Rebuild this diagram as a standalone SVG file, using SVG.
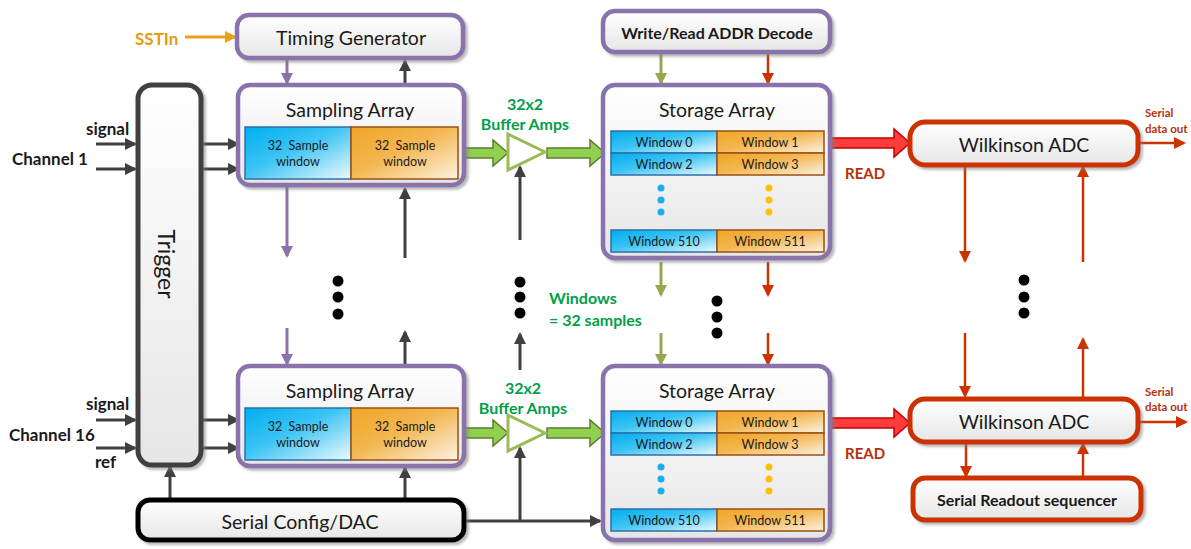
<svg xmlns="http://www.w3.org/2000/svg" width="1191" height="549" viewBox="0 0 1191 549">
<defs>
  <linearGradient id="gNode" x1="0" y1="0" x2="0" y2="1">
    <stop offset="0" stop-color="#ffffff"/>
    <stop offset="1" stop-color="#e6e6e6"/>
  </linearGradient>
  <linearGradient id="gBlue" x1="0" y1="0" x2="1" y2="1">
    <stop offset="0" stop-color="#00aef0"/>
    <stop offset="0.45" stop-color="#3cc4f4"/>
    <stop offset="1" stop-color="#eefaff"/>
  </linearGradient>
  <linearGradient id="gOrange" x1="0" y1="0" x2="1" y2="1">
    <stop offset="0" stop-color="#f0a526"/>
    <stop offset="0.45" stop-color="#f3b650"/>
    <stop offset="1" stop-color="#fdf2e2"/>
  </linearGradient>
  <filter id="sh" x="-10%" y="-10%" width="130%" height="130%">
    <feDropShadow dx="2.5" dy="2.5" stdDeviation="1.2" flood-color="#808080" flood-opacity="0.55"/>
  </filter>
  <marker id="aDark" markerUnits="userSpaceOnUse" markerWidth="14" markerHeight="14" refX="10" refY="6" orient="auto"><path d="M0,0 L12,6 L0,12 z" fill="#404040"/></marker>
  <marker id="aPurple" markerUnits="userSpaceOnUse" markerWidth="14" markerHeight="14" refX="10" refY="6" orient="auto"><path d="M0,0 L12,6 L0,12 z" fill="#8a72ab"/></marker>
  <marker id="aOlive" markerUnits="userSpaceOnUse" markerWidth="14" markerHeight="14" refX="10" refY="6" orient="auto"><path d="M0,0 L12,6 L0,12 z" fill="#93a94f"/></marker>
  <marker id="aRed" markerUnits="userSpaceOnUse" markerWidth="14" markerHeight="14" refX="10" refY="6" orient="auto"><path d="M0,0 L12,6 L0,12 z" fill="#cc3300"/></marker>
  <marker id="aOrange" markerUnits="userSpaceOnUse" markerWidth="14" markerHeight="14" refX="10" refY="6" orient="auto"><path d="M0,0 L12,6 L0,12 z" fill="#e8a317"/></marker>
  <style>
    .box { fill: url(#gNode); filter: url(#sh); }
    .pur { stroke: #8a72ab; stroke-width: 4.5; }
    .blk { stroke: #000000; stroke-width: 5; }
    .trg { stroke: #404040; stroke-width: 5; }
    .red { stroke: #cc3300; stroke-width: 5; }
    .wb { fill: url(#gBlue); stroke: #2e6fa8; stroke-width: 1.5; }
    .wo { fill: url(#gOrange); stroke: #9a4f12; stroke-width: 1.5; }
    .t { font-family: Lato, "Liberation Sans", sans-serif; fill: #1a1a1a; text-anchor: middle; dominant-baseline: central; }
    .big { font-size: 19.5px; }
    .bb { font-size: 16px; font-weight: bold; }
    .win { font-size: 12.5px; white-space: pre; }
    .lab { font-family: Lato, "Liberation Sans", sans-serif; font-weight: bold; dominant-baseline: central; }
    .grn { fill: #00a04a; font-size: 16px; text-anchor: middle; }
    .rd { fill: #b5310a; }
    .cDark { stroke: #404040; stroke-width: 3; fill: none; marker-end: url(#aDark); }
    .cPur { stroke: #8a72ab; stroke-width: 3; fill: none; marker-end: url(#aPurple); }
    .cOl { stroke: #93a94f; stroke-width: 3; fill: none; marker-end: url(#aOlive); }
    .cRed { stroke: #cc3300; stroke-width: 2.5; fill: none; marker-end: url(#aRed); }
    .cOr { stroke: #e8a317; stroke-width: 3; fill: none; marker-end: url(#aOrange); }
    .gArrow { fill: #92d050; stroke: #5e7d30; stroke-width: 1.5; }
    .amp { fill: #ffffff; stroke: #9bbb59; stroke-width: 3; }
    .rArrow { fill: #ff3b3b; stroke: #c00000; stroke-width: 1.5; }
  </style>
</defs>
<rect width="1191" height="549" fill="#ffffff"/>

<!-- Connectors -->
<g id="connectors">
  <line class="cOr" x1="185" y1="37" x2="235" y2="37"/>
  <line class="cPur" x1="287" y1="60" x2="287" y2="83"/>
  <line class="cDark" x1="405" y1="85" x2="405" y2="61"/>
  <line class="cPur" x1="287" y1="187" x2="287" y2="256"/>
  <line class="cPur" x1="287" y1="328" x2="287" y2="364"/>
  <line class="cDark" x1="405" y1="258" x2="405" y2="189"/>
  <line class="cDark" x1="405" y1="366" x2="405" y2="332"/>
  <line class="cDark" x1="96" y1="144" x2="135" y2="144"/>
  <line class="cDark" x1="96" y1="169" x2="135" y2="169"/>
  <line class="cDark" x1="202" y1="144" x2="238" y2="144"/>
  <line class="cDark" x1="202" y1="169" x2="238" y2="169"/>
  <line class="cDark" x1="96" y1="420" x2="135" y2="420"/>
  <line class="cDark" x1="96" y1="448" x2="135" y2="448"/>
  <line class="cDark" x1="202" y1="420" x2="238" y2="420"/>
  <line class="cDark" x1="202" y1="448" x2="238" y2="448"/>
  <line class="cDark" x1="170" y1="500" x2="170" y2="467"/>
  <line class="cDark" x1="405" y1="500" x2="405" y2="468"/>
  <line class="cDark" x1="465" y1="521" x2="600" y2="521"/>
  <line class="cDark" x1="520" y1="521" x2="520" y2="448"/>
  <line class="cDark" x1="520" y1="240" x2="520" y2="167"/>
  <line class="cDark" x1="520" y1="370" x2="520" y2="334"/>
  <polygon class="gArrow" points="458,148 493,148 493,140 508,153 493,166 493,158 458,158"/>
  <polygon class="gArrow" points="547,148 590,148 590,140 605,153 590,166 590,158 547,158"/>
  <polygon class="gArrow" points="458,428 493,428 493,420 508,433 493,446 493,438 458,438"/>
  <polygon class="gArrow" points="547,428 590,428 590,420 605,433 590,446 590,438 547,438"/>
  <line class="cOl" x1="661" y1="53" x2="661" y2="83"/>
  <line class="cRed" x1="768" y1="53" x2="768" y2="83"/>
  <line class="cOl" x1="661" y1="262" x2="661" y2="295"/>
  <line class="cOl" x1="661" y1="333" x2="661" y2="364"/>
  <line class="cRed" x1="768" y1="262" x2="768" y2="295"/>
  <line class="cRed" x1="768" y1="333" x2="768" y2="364"/>
  <polygon class="rArrow" points="824,138 894,138 894,129 910,143 894,157 894,148 824,148"/>
  <polygon class="rArrow" points="824,418 894,418 894,409 910,423 894,437 894,428 824,428"/>
  <line class="cRed" x1="965" y1="166" x2="965" y2="261"/>
  <line class="cRed" x1="1083" y1="262" x2="1083" y2="167"/>
  <line class="cRed" x1="965" y1="333" x2="965" y2="396"/>
  <line class="cRed" x1="1083" y1="397" x2="1083" y2="339"/>
  <line class="cRed" x1="966" y1="443" x2="966" y2="476"/>
  <line class="cRed" x1="1083" y1="478" x2="1083" y2="444"/>
  <line class="cRed" x1="1138" y1="143" x2="1184" y2="143"/>
  <line class="cRed" x1="1138" y1="422" x2="1186" y2="422"/>
</g>

<!-- Nodes -->
<g id="timing-generator">
  <rect class="box pur" x="237" y="15" width="226" height="43" rx="12"/>
  <text class="t big" x="351" y="37">Timing Generator</text>
</g>

<g id="trigger">
  <rect class="box trg" x="138" y="85" width="63" height="380" rx="14"/>
  <text class="t" font-size="23" transform="translate(167,264) rotate(90)">Trigger</text>
</g>

<g id="sampling-array-1">
  <rect class="box pur" x="238" y="85" width="226" height="100" rx="12"/>
  <text class="t big" x="350" y="109">Sampling Array</text>
  <rect class="wb" x="245" y="127" width="106" height="52"/>
  <rect class="wo" x="351" y="127" width="107" height="52"/>
  <text class="t win" x="298" y="145" xml:space="preserve">32  Sample</text>
  <text class="t win" x="298" y="161">window</text>
  <text class="t win" x="405" y="145" xml:space="preserve">32  Sample</text>
  <text class="t win" x="405" y="161">window</text>
</g>

<g id="sampling-array-16">
  <rect class="box pur" x="238" y="366" width="226" height="100" rx="12"/>
  <text class="t big" x="350" y="390">Sampling Array</text>
  <rect class="wb" x="245" y="408" width="106" height="52"/>
  <rect class="wo" x="351" y="408" width="107" height="52"/>
  <text class="t win" x="298" y="426" xml:space="preserve">32  Sample</text>
  <text class="t win" x="298" y="442">window</text>
  <text class="t win" x="405" y="426" xml:space="preserve">32  Sample</text>
  <text class="t win" x="405" y="442">window</text>
</g>

<g id="buffer-amp-1">
  <polygon class="amp" points="508,134 545,152 508,170"/>
</g>
<g id="buffer-amp-16">
  <polygon class="amp" points="508,415 545,433 508,451"/>
</g>

<g id="serial-config-dac">
  <rect class="box blk" x="138" y="500" width="326" height="40" rx="12"/>
  <text class="t big" x="300" y="521">Serial Config/DAC</text>
</g>

<g id="addr-decode">
  <rect class="box pur" x="603" y="11" width="227" height="41" rx="12"/>
  <text class="t bb" x="717" y="32">Write/Read ADDR Decode</text>
</g>

<g id="storage-array-1">
  <rect class="box pur" x="603" y="85" width="227" height="173" rx="12"/>
  <text class="t big" x="717" y="109">Storage Array</text>
  <rect class="wb" x="611" y="131" width="106" height="22"/>
  <rect class="wo" x="717" y="131" width="107" height="22"/>
  <rect class="wb" x="611" y="153" width="106" height="22"/>
  <rect class="wo" x="717" y="153" width="107" height="22"/>
  <text class="t win" x="664" y="142">Window 0</text>
  <text class="t win" x="770" y="142">Window 1</text>
  <text class="t win" x="664" y="164">Window 2</text>
  <text class="t win" x="770" y="164">Window 3</text>
  <circle cx="661" cy="188" r="3.5" fill="#1aaeee"/>
  <circle cx="661" cy="200" r="3.5" fill="#1aaeee"/>
  <circle cx="661" cy="212" r="3.5" fill="#1aaeee"/>
  <circle cx="769" cy="188" r="3.5" fill="#fcbf0a"/>
  <circle cx="769" cy="200" r="3.5" fill="#fcbf0a"/>
  <circle cx="769" cy="212" r="3.5" fill="#fcbf0a"/>
  <rect class="wb" x="611" y="230" width="106" height="22"/>
  <rect class="wo" x="717" y="230" width="107" height="22"/>
  <text class="t win" x="664" y="241">Window 510</text>
  <text class="t win" x="770" y="241">Window 511</text>
</g>

<g id="storage-array-16">
  <rect class="box pur" x="603" y="366" width="227" height="174" rx="12"/>
  <text class="t big" x="717" y="390">Storage Array</text>
  <rect class="wb" x="611" y="411" width="106" height="22"/>
  <rect class="wo" x="717" y="411" width="107" height="22"/>
  <rect class="wb" x="611" y="433" width="106" height="22"/>
  <rect class="wo" x="717" y="433" width="107" height="22"/>
  <text class="t win" x="664" y="422">Window 0</text>
  <text class="t win" x="770" y="422">Window 1</text>
  <text class="t win" x="664" y="444">Window 2</text>
  <text class="t win" x="770" y="444">Window 3</text>
  <circle cx="661" cy="467" r="3.5" fill="#1aaeee"/>
  <circle cx="661" cy="479" r="3.5" fill="#1aaeee"/>
  <circle cx="661" cy="491" r="3.5" fill="#1aaeee"/>
  <circle cx="769" cy="467" r="3.5" fill="#fcbf0a"/>
  <circle cx="769" cy="479" r="3.5" fill="#fcbf0a"/>
  <circle cx="769" cy="491" r="3.5" fill="#fcbf0a"/>
  <rect class="wb" x="611" y="509" width="106" height="22"/>
  <rect class="wo" x="717" y="509" width="107" height="22"/>
  <text class="t win" x="664" y="520">Window 510</text>
  <text class="t win" x="770" y="520">Window 511</text>
</g>

<g id="wilkinson-adc-1">
  <rect class="box red" x="910" y="122" width="228" height="43" rx="15"/>
  <text class="t big" x="1024" y="144">Wilkinson ADC</text>
</g>

<g id="wilkinson-adc-16">
  <rect class="box red" x="910" y="399" width="228" height="43" rx="15"/>
  <text class="t big" x="1024" y="421">Wilkinson ADC</text>
</g>

<g id="serial-readout-sequencer">
  <rect class="box red" x="913" y="478" width="228" height="42" rx="12"/>
  <text class="t bb" x="1027" y="499" font-size="16.5">Serial Readout sequencer</text>
</g>

<!-- Labels -->
<g id="labels">
  <text class="lab" x="135" y="38" font-size="17" fill="#e39b12">SSTIn</text>
  <text class="lab" x="86" y="128" font-size="17" fill="#1a1a1a">signal</text>
  <text class="lab" x="12" y="158" font-size="17" fill="#1a1a1a">Channel 1</text>
  <text class="lab" x="86" y="403" font-size="17" fill="#1a1a1a">signal</text>
  <text class="lab" x="9" y="434" font-size="17" fill="#1a1a1a">Channel 16</text>
  <text class="lab" x="95" y="461" font-size="17" fill="#1a1a1a">ref</text>
  <text class="lab grn" x="525" y="103">32x2</text>
  <text class="lab grn" x="525" y="123">Buffer Amps</text>
  <text class="lab grn" x="523" y="387">32x2</text>
  <text class="lab grn" x="523" y="407">Buffer Amps</text>
  <text class="lab" x="549" y="297" font-size="16" fill="#00a04a">Windows</text>
  <text class="lab" x="549" y="319" font-size="16" fill="#00a04a">= 32 samples</text>
  <text class="lab rd" x="845" y="173" font-size="15">READ</text>
  <text class="lab rd" x="845" y="453" font-size="15">READ</text>
  <text class="lab rd" x="1145" y="112" font-size="11.5">Serial</text>
  <text class="lab rd" x="1145" y="128" font-size="11.5">data out</text>
  <text class="lab rd" x="1145" y="391" font-size="11.5">Serial</text>
  <text class="lab rd" x="1145" y="406" font-size="11.5">data out</text>
</g>

<!-- Continuation dots -->
<g id="dots" fill="#000000">
  <circle cx="338" cy="281" r="5.5"/><circle cx="338" cy="297" r="5.5"/><circle cx="338" cy="314" r="5.5"/>
  <circle cx="520" cy="282" r="5.5"/><circle cx="520" cy="297" r="5.5"/><circle cx="520" cy="313" r="5.5"/>
  <circle cx="717" cy="301" r="5.5"/><circle cx="717" cy="317" r="5.5"/><circle cx="717" cy="333" r="5.5"/>
  <circle cx="1024" cy="280" r="5.5"/><circle cx="1024" cy="297" r="5.5"/><circle cx="1024" cy="313" r="5.5"/>
</g>
</svg>
